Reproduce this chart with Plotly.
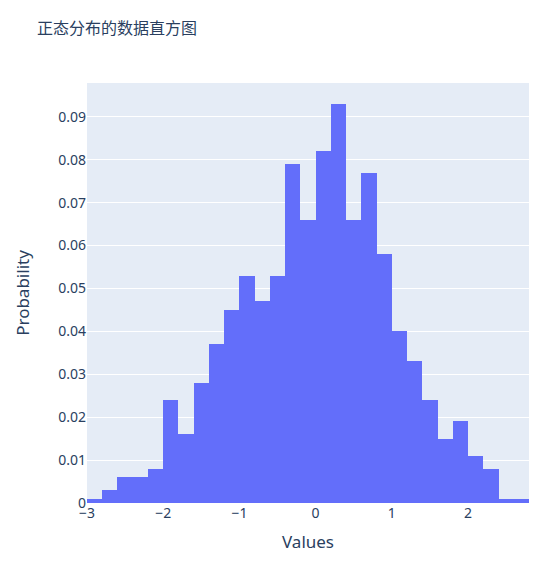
import plotly.graph_objects as go

# bin starts (width 0.2) and probability per bin
bin_starts = [-3.0, -2.8, -2.6, -2.4, -2.2, -2.0, -1.8, -1.6, -1.4, -1.2,
              -1.0, -0.8, -0.6, -0.4, -0.2, 0.0, 0.2, 0.4, 0.6, 0.8,
              1.0, 1.2, 1.4, 1.6, 1.8, 2.0, 2.2, 2.4, 2.6]
probabilities = [0.001, 0.003, 0.006, 0.006, 0.008, 0.024, 0.016, 0.028, 0.037, 0.045,
                 0.053, 0.047, 0.053, 0.079, 0.066, 0.082, 0.093, 0.066, 0.077, 0.058,
                 0.040, 0.033, 0.024, 0.015, 0.019, 0.011, 0.008, 0.001, 0.001]
bin_size = 0.2

# centres des bins
centers = [round(s + bin_size / 2, 2) for s in bin_starts]

fig = go.Figure()
fig.add_trace(go.Histogram(
    x=centers, y=probabilities, histfunc="sum",
    xbins=dict(start=-3.0, end=2.8, size=bin_size),
    marker_color="#636efa", showlegend=False
))

fig.update_layout(
    template="plotly",
    width=544, height=566,
    font=dict(family="Noto Sans, Noto Sans CJK SC", color="#2a3f5f"),
    title=dict(text="正态分布的数据直方图", x=29 / 544, xanchor="left",
               y=1 - 20 / 566, yanchor="middle",
               font=dict(size=16, family="Noto Sans CJK SC")),
    margin=dict(l=79, r=23, t=75, b=71),
    bargap=0,
    xaxis=dict(title=dict(text="Values", font=dict(size=17)), range=[-3, 2.8],
               tickfont=dict(size=14)),
    yaxis=dict(title=dict(text="Probability", font=dict(size=17), standoff=24),
               tickfont=dict(size=14), automargin=False),
)

fig.write_html("out.html")
